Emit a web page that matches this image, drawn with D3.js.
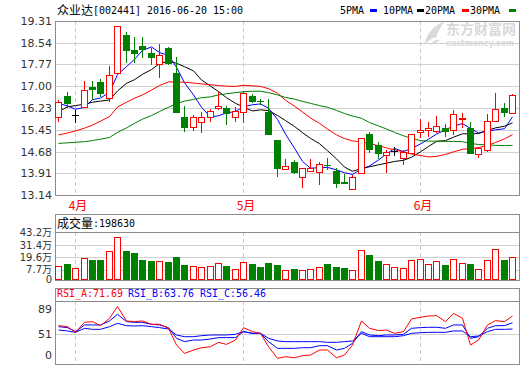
<!DOCTYPE html>
<html><head><meta charset="utf-8">
<script src="https://cdn.jsdelivr.net/npm/d3@7"></script>
<style>body{margin:0;background:#fff}svg{display:block}</style>
</head><body><svg id="c" width="520" height="365"></svg>
<script>
const dates = ["2016-03-30","2016-03-31","2016-04-01","2016-04-05","2016-04-06","2016-04-07","2016-04-08","2016-04-11","2016-04-12","2016-04-13","2016-04-14","2016-04-15","2016-04-18","2016-04-19","2016-04-20","2016-04-21","2016-04-22","2016-04-25","2016-04-26","2016-04-27","2016-04-28","2016-04-29","2016-05-03","2016-05-04","2016-05-05","2016-05-06","2016-05-09","2016-05-10","2016-05-11","2016-05-12","2016-05-13","2016-05-16","2016-05-17","2016-05-18","2016-05-19","2016-05-20","2016-05-23","2016-05-24","2016-05-25","2016-05-26","2016-05-27","2016-05-30","2016-05-31","2016-06-01","2016-06-02","2016-06-03","2016-06-06","2016-06-07","2016-06-08","2016-06-13","2016-06-14","2016-06-15","2016-06-16","2016-06-17","2016-06-20"];
const openP  = [15.92,16.65,15.98,16.27,16.96,17.16,16.59,17.46,18.81,18.28,18.42,18.19,17.77,18.34,17.46,15.89,15.56,15.74,15.89,16.24,16.21,15.89,16.09,16.65,16.48,16.09,15.09,14.05,14.32,13.79,14.00,13.97,14.21,13.99,13.60,13.34,13.91,15.30,14.90,14.56,14.70,14.44,14.62,15.36,15.44,15.42,15.50,15.44,15.83,15.50,14.59,14.74,15.76,16.21,16.04];
const highP  = [16.51,16.78,16.15,17.17,17.19,17.24,17.73,19.14,18.91,18.75,18.75,18.36,18.48,18.38,18.02,16.30,15.98,16.07,16.19,16.78,16.30,16.27,16.83,16.72,16.54,16.53,15.09,14.42,14.38,14.09,14.42,14.32,14.46,14.11,13.87,13.85,15.17,15.38,15.02,14.74,14.83,14.74,15.32,15.82,15.72,15.94,15.65,16.15,16.06,15.74,14.85,16.02,16.75,16.39,16.72];
const lowP   = [15.74,16.21,15.70,16.24,16.51,16.60,16.43,17.46,17.81,17.81,17.99,17.75,17.28,17.75,16.09,15.38,15.41,15.35,15.74,16.15,15.62,15.74,15.68,16.39,16.33,15.29,13.79,14.05,13.88,13.40,14.00,13.49,14.03,13.38,13.52,13.32,13.91,14.62,14.42,13.91,14.53,14.20,14.62,15.15,15.21,15.33,15.21,15.27,15.50,14.62,14.44,14.65,15.72,15.92,16.01];
const closeP = [16.45,16.39,15.98,16.86,16.90,16.75,17.40,19.14,18.28,18.19,18.32,18.04,18.10,17.81,16.09,15.56,15.89,15.89,16.13,16.30,16.04,16.12,16.75,16.47,16.46,15.29,14.11,14.17,13.97,14.09,14.09,14.23,14.20,13.55,13.58,13.79,15.17,14.76,14.62,14.68,14.70,14.65,15.30,15.44,15.50,15.59,15.42,16.00,15.86,14.62,14.79,15.78,16.18,16.09,16.69];
const ma5  = [16.39,16.30,16.18,16.25,16.52,16.58,16.78,17.41,17.69,17.95,18.27,18.39,18.19,18.09,17.67,17.12,16.69,16.25,15.91,15.95,16.05,16.10,16.27,16.34,16.37,16.22,15.82,15.30,14.80,14.33,14.09,14.11,14.12,14.03,13.93,13.87,14.06,14.17,14.38,14.60,14.79,14.68,14.79,14.95,15.12,15.30,15.45,15.59,15.67,15.50,15.34,15.41,15.45,15.49,15.91];
const ma10 = [16.09,16.27,16.31,16.36,16.43,16.47,16.51,16.83,17.10,17.23,17.42,17.59,17.80,17.89,17.81,17.69,17.54,17.22,17.00,16.81,16.59,16.39,16.26,16.12,16.16,16.13,15.96,15.78,15.57,15.35,15.15,14.96,14.71,14.42,14.13,13.98,14.08,14.14,14.21,14.27,14.33,14.37,14.48,14.67,14.86,15.04,15.07,15.19,15.31,15.31,15.32,15.43,15.52,15.58,15.70];
const ma20 = [15.27,15.34,15.41,15.51,15.62,15.76,15.92,16.26,16.43,16.57,16.69,16.86,17.02,17.15,17.15,17.14,17.11,17.08,17.05,17.02,17.00,16.99,17.03,17.01,16.99,16.91,16.75,16.50,16.29,16.08,15.87,15.68,15.48,15.27,15.14,15.06,15.02,14.96,14.89,14.81,14.74,14.67,14.59,14.54,14.49,14.51,14.58,14.67,14.76,14.79,14.82,14.90,15.00,15.13,15.28];
const ma30 = [14.97,14.99,15.01,15.03,15.07,15.12,15.18,15.36,15.52,15.68,15.83,15.96,16.10,16.25,16.38,16.47,16.53,16.59,16.62,16.69,16.73,16.77,16.80,16.82,16.82,16.77,16.69,16.60,16.54,16.46,16.39,16.31,16.25,16.14,16.03,15.94,15.86,15.71,15.59,15.48,15.36,15.24,15.15,15.07,15.05,15.05,15.04,15.04,15.03,14.97,14.93,14.92,14.90,14.89,14.90];
const volume = [11.1,13.3,8.9,18.5,16.9,16.9,25.3,38.8,25.6,23.6,16.9,15.9,15.6,14.9,19.8,12.1,10.8,9.8,10.8,13.7,11.1,7.9,14.7,13.0,9.8,14.0,12.1,6.9,8.2,6.9,7.9,9.8,13.0,10.1,9.2,6.9,26.2,21.7,15.9,12.7,9.8,8.9,16.6,17.6,12.7,15.6,12.1,17.6,13.7,13.0,7.9,16.6,27.2,16.9,19.863];
const rsiA = [60.4,59.2,52.6,64.3,65.1,60.4,69.0,82.7,65.9,65.1,65.9,62.0,62.0,57.3,37.8,28.0,31.9,34.6,35.8,40.9,38.5,43.6,58.1,53.4,51.4,35.8,22.2,24.1,22.9,25.3,26.1,31.9,31.9,22.9,26.1,37.8,65.9,57.3,54.6,55.3,51.4,53.4,68.2,70.2,71.7,72.1,65.1,74.8,69.0,37.8,43.6,61.2,66.3,65.1,71.69];
const rsiB = [59.2,58.1,53.4,61.2,61.2,61.2,65.9,73.7,65.1,64.3,64.3,62.0,61.2,58.1,45.6,41.7,43.6,43.6,44.8,46.4,46.4,46.4,53.4,51.4,51.4,41.7,33.9,33.9,33.9,34.6,34.6,37.0,37.0,31.9,33.9,39.7,53.4,49.5,48.7,49.5,49.5,50.3,57.3,58.1,58.5,58.5,57.3,61.2,61.2,45.6,47.5,57.3,60.4,60.4,63.76];
const rsiC = [55.3,54.2,52.6,57.3,56.1,56.1,59.2,63.1,60.4,60.0,60.4,59.2,58.1,56.5,49.5,47.5,47.5,48.7,49.5,49.5,49.5,50.3,53.4,51.4,51.4,45.6,42.5,41.7,41.7,41.7,41.7,41.7,40.9,40.9,41.7,42.5,51.4,47.5,47.5,47.5,47.5,48.7,51.4,52.2,52.6,52.6,52.6,54.2,54.2,47.5,48.3,53.4,56.1,56.1,56.46];
const priceTicks = [19.31,18.54,17.77,17.00,16.23,15.45,14.68,13.91,13.14];
const volTicks = [0,7.7,19.6,31.4,43.2];
const rsiTicks = [89,51,0];
const monthLabels = ["4月","5月","6月"];
const monthStarts = ["2016-04-01","2016-05-03","2016-06-01"];
const maNames = ["5PMA","10PMA","20PMA","30PMA"];
const maColors = ["#0000ff","#000000","#ff0000","#008000"];

const svg = d3.select('#c');
const L = 55, R = 519;
const P = {top:21, bottom:195};
const V = {top:214, sep:232, bottom:280};
const Q = {top:288, sep:301, bottom:364};
const RED = "#ff0000", GREEN = "#008000", GRID = "#d0d0d0", FRAME = "#8c8c8c";
const MONO = "'DejaVu Sans Mono', monospace", CJK = "'Noto Sans CJK SC', sans-serif", SANS = "'DejaVu Sans', sans-serif";

const x = d3.scaleBand().domain(dates).range([54.1, 516.1]);
const cx = d => Math.round(x(d) + x.bandwidth()/2);
const y = d3.scaleLinear().domain([13.14, 19.31]).range([P.bottom, P.top]);
const vy = d3.scaleLinear().domain([0, 43.2]).range([277.5, 232.7]);
const ry = d3.scaleLinear().domain([51, 71.69]).range([333.7, 316]);
const rTickY = d3.scaleLinear().domain([0, 51, 89]).range([355, 333.7, 309]);

const g = svg.append('g').attr('shape-rendering','crispEdges');
function hline(yy, c, dash){ g.append('line').attr('x1',L).attr('x2',R).attr('y1',Math.round(yy)+0.5).attr('y2',Math.round(yy)+0.5).attr('stroke',c).attr('stroke-dasharray',dash||null); }

priceTicks.slice(1,-1).forEach(t => hline(y(t), GRID));
volTicks.slice(1,-1).forEach(t => hline(vy(t), GRID));
hline(ry(51), GRID);

monthStarts.forEach(m => {
  const xx = cx(m)+0.5;
  [[P.top,P.bottom],[V.sep,V.bottom],[Q.sep,Q.bottom]].forEach(([a,b]) => {
    g.append('line').attr('x1',xx).attr('x2',xx).attr('y1',a).attr('y2',b)
      .attr('stroke','#c8c8c8').attr('stroke-dasharray','4,3');
  });
});

// watermark
const wm = svg.append('g').attr('fill','#d9d9d9');
wm.append('path').attr('d','M424,45 C427,33 434,25 444,22 C440,28 437,33 436,38 C433,36 430,40 424,45 Z');
wm.append('path').attr('d','M430,45 C433,40 437,39 440,40 C437,42 434,44 430,45 Z');
wm.append('text').attr('x',446).attr('y',34).attr('font-family',CJK).attr('font-weight','bold').attr('font-size',14).text('东方财富网');
wm.append('text').attr('x',446).attr('y',46).attr('font-family',SANS).attr('font-weight','bold').attr('font-size',9).attr('textLength',68).attr('lengthAdjust','spacingAndGlyphs').text('eastmoney.com');

[[P.top,P.bottom],[V.top,V.bottom],[Q.top,Q.bottom]].forEach(([a,b]) => {
  g.append('rect').attr('x',L+0.5).attr('y',a+0.5).attr('width',R-L).attr('height',b-a)
    .attr('fill','none').attr('stroke',FRAME);
});
hline(V.sep, FRAME);
hline(Q.sep, FRAME);

const maSeries = [ma5, ma10, ma20, ma30];
maSeries.forEach((s, k) => {
  const line = d3.line().x((d,i) => cx(dates[i])+0.5).y(d => y(d));
  svg.append('path').attr('d', line(s)).attr('fill','none').attr('stroke',maColors[k]).attr('stroke-width',1);
});

const cg = svg.append('g').attr('shape-rendering','crispEdges');
dates.forEach((d,i) => {
  const o = openP[i], c = closeP[i], h = highP[i], l = lowP[i];
  const xc = cx(d) + 0.5;
  const col = c > o ? RED : (c < o ? GREEN : "#000");
  const yt = Math.round(y(Math.max(o,c))), yb = Math.round(y(Math.min(o,c)));
  if (c > o) {
    cg.append('line').attr('x1',xc).attr('x2',xc).attr('y1',y(h)).attr('y2',yt).attr('stroke',col);
    cg.append('line').attr('x1',xc).attr('x2',xc).attr('y1',yb).attr('y2',y(l)).attr('stroke',col);
    cg.append('rect').attr('x',xc-3).attr('y',yt+0.5).attr('width',6).attr('height',Math.max(1,yb-yt))
      .attr('fill','#fff').attr('stroke',col);
  } else {
    cg.append('line').attr('x1',xc).attr('x2',xc).attr('y1',y(h)).attr('y2',y(l)).attr('stroke',col);
    if (yb - yt < 1) {
      cg.append('line').attr('x1',xc-3.5).attr('x2',xc+3.5).attr('y1',yt+0.5).attr('y2',yt+0.5).attr('stroke',col);
    } else {
      cg.append('rect').attr('x',xc-3.5).attr('y',yt).attr('width',7).attr('height',yb-yt+1).attr('fill',col);
    }
  }
});

dates.forEach((d,i) => {
  const up = closeP[i] >= openP[i];
  const xc = cx(d) + 0.5;
  const top = Math.round(vy(volume[i]));
  if (up) {
    cg.append('rect').attr('x',xc-3).attr('y',top+0.5).attr('width',6).attr('height',V.bottom-top-1)
      .attr('fill','#fff').attr('stroke',RED);
  } else {
    cg.append('rect').attr('x',xc-3.5).attr('y',top).attr('width',7).attr('height',V.bottom-top).attr('fill',GREEN);
  }
});

[[rsiC,'#0000ff'],[rsiB,'#0000ff'],[rsiA,RED]].forEach(([s,col]) => {
  const line = d3.line().x((d,i) => cx(dates[i])+0.5).y(d => ry(d));
  svg.append('path').attr('d', line(s)).attr('fill','none').attr('stroke',col).attr('stroke-width',1);
});

const tg = svg.append('g').attr('fill','#333').attr('font-family',SANS).attr('font-size',11).attr('text-anchor','end');
priceTicks.forEach(t => tg.append('text').attr('x',52).attr('y',y(t)).attr('dy','0.36em').text(t.toFixed(2)));
volTicks.forEach(t => {
  const tx = tg.append('text').attr('x',52).attr('y', t === 0 ? V.bottom - 1 : vy(t)).attr('dy','0.36em').attr('font-size',10);
  if (t === 0) tx.text('0'); else { tx.append('tspan').text(String(t)); tx.append('tspan').attr('font-family',CJK).text('万'); }
});
rsiTicks.forEach(t => tg.append('text').attr('x',52).attr('y',rTickY(t)).attr('dy','0.36em').text(String(t)));

monthStarts.forEach((m,k) => {
  svg.append('text').attr('x',cx(m)+3).attr('y',210).attr('text-anchor','middle')
    .attr('font-family',CJK).attr('font-size',12).attr('fill',RED).text(monthLabels[k]);
});

svg.append('text').attr('x',57).attr('y',15).attr('font-family',CJK).attr('font-size',12).attr('fill','#000').text('众业达');
svg.append('text').attr('x',93).attr('y',14).attr('font-family',MONO).attr('font-size',11).attr('fill','#000')
  .attr('textLength',150).attr('lengthAdjust','spacingAndGlyphs').text('[002441] 2016-06-20 15:00');

const legX = [340,383,425,470], sqX = [370,417,462,509], legW = [24,30,30,30];
maNames.forEach((n,k) => {
  svg.append('text').attr('x',legX[k]).attr('y',14).attr('font-family',MONO).attr('font-size',11).attr('fill','#000')
    .attr('textLength',legW[k]).attr('lengthAdjust','spacingAndGlyphs').text(n);
  svg.append('rect').attr('x',sqX[k]).attr('y',9).attr('width',7).attr('height',3).attr('fill',maColors[k]);
});

svg.append('text').attr('x',57).attr('y',228).attr('font-family',CJK).attr('font-size',12).attr('fill','#000').text('成交量');
svg.append('text').attr('x',93).attr('y',227).attr('font-family',MONO).attr('font-size',11).attr('fill','#000')
  .attr('textLength',42).attr('lengthAdjust','spacingAndGlyphs').text(':' + Math.round(volume[volume.length-1]*10000));

const rsiLab = [["RSI_A:", rsiA, RED, 57], ["RSI_B:", rsiB, "#0000ff", 128], ["RSI_C:", rsiC, "#0000ff", 200]];
rsiLab.forEach(([n,s,col,xx]) => {
  svg.append('text').attr('x',xx).attr('y',297).attr('font-family',MONO).attr('font-size',11).attr('fill',col)
    .attr('textLength',66).attr('lengthAdjust','spacingAndGlyphs').text(n + s[s.length-1].toFixed(2));
});
</script></body></html>
